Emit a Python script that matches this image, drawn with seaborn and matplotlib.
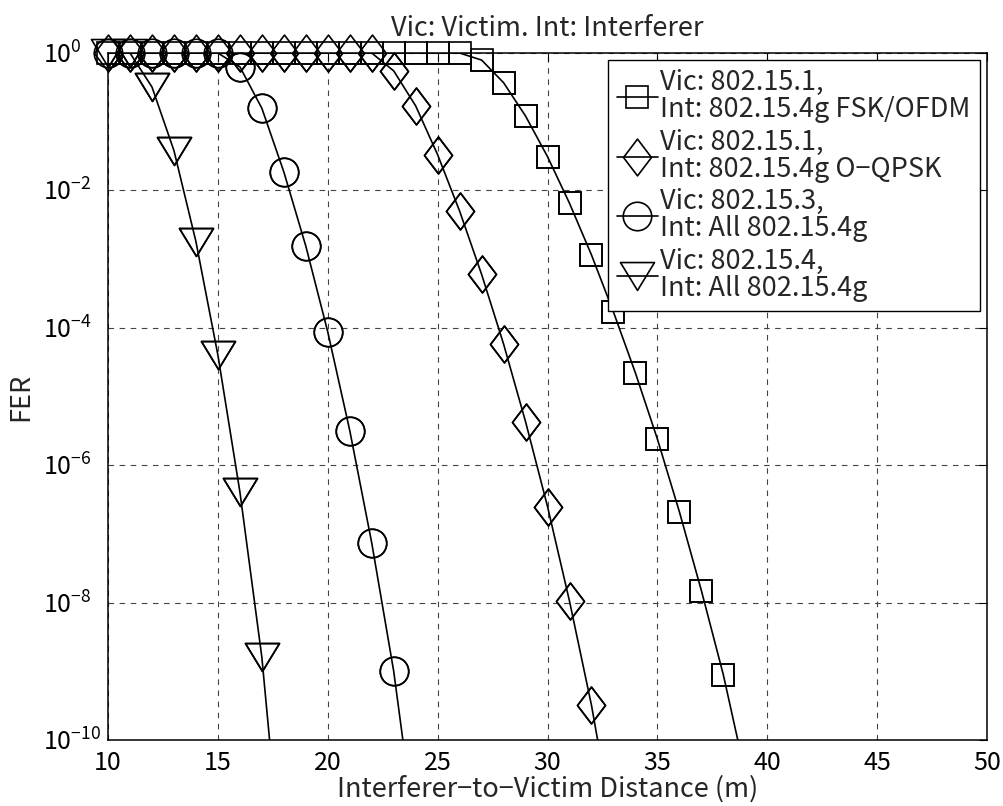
import numpy as np
import pandas as pd
import matplotlib
matplotlib.use("Agg")
import matplotlib.pyplot as plt
from matplotlib.path import Path
from matplotlib.ticker import FixedLocator, FixedFormatter, NullLocator
import seaborn as sns

# Frame error rate vs. interferer-to-victim distance
dist_fsk = list(range(10, 40))
fer_fsk = [1.0] * 17 + [0.79, 0.37, 0.121, 0.031, 6.5e-3, 1.15e-3, 1.7e-4,
                        2.2e-5, 2.4e-6, 2.1e-7, 1.5e-8, 8.9e-10, 3.2e-11]

dist_oqpsk = list(range(10, 34))
fer_oqpsk = [1.0] * 13 + [0.55, 0.17, 0.033, 5.0e-3, 6.0e-4, 5.8e-5, 4.3e-6,
                          2.5e-7, 1.05e-8, 3.2e-10, 5e-12]

dist_153 = list(range(10, 25))
fer_153 = [1.0] * 6 + [0.63, 0.157, 0.0186, 1.55e-3, 8.7e-5, 3.2e-6, 7.4e-8,
                       1.0e-9, 4e-12]

dist_154 = list(range(10, 19))
fer_154 = [1.0, 1.0, 0.32, 0.038, 1.8e-3, 4.0e-5, 4.1e-7, 1.6e-9, 6e-13]

labels = [
    "Vic: 802.15.1,\nInt: 802.15.4g FSK/OFDM",
    "Vic: 802.15.1,\nInt: 802.15.4g O\u2212QPSK",
    "Vic: 802.15.3,\nInt: All 802.15.4g",
    "Vic: 802.15.4,\nInt: All 802.15.4g",
]

x_ticks = [10, 15, 20, 25, 30, 35, 40, 45, 50]
y_exps = [0, -2, -4, -6, -8, -10]
y_tick_labels = [r"$10^{%d}$" % e for e in y_exps]

title = "Vic: Victim. Int: Interferer"
x_label = "Interferer\u2212to\u2212Victim Distance (m)"
y_label = "FER"

sns.set_style("white")
plt.rcParams["font.family"] = ["Noto Sans CJK JP", "DejaVu Sans"]
plt.rcParams["mathtext.fontset"] = "custom"
plt.rcParams["mathtext.rm"] = "Noto Sans CJK JP"
plt.rcParams["mathtext.it"] = "Noto Sans CJK JP"
plt.rcParams["mathtext.default"] = "rm"

FS = 19.5
FS_TICK = 18

Y_MIN, Y_MAX = 1e-10, 1.0

# open marker shapes
diamond = Path([(0, 1), (0.76, 0), (0, -1), (-0.76, 0), (0, 1)], closed=True)
tri_down = Path([(-1, 0.82), (1, 0.82), (0, -0.82), (-1, 0.82)], closed=True)

series = [
    (dist_fsk, fer_fsk, "s", 16.5),
    (dist_oqpsk, fer_oqpsk, diamond, 26.5),
    (dist_153, fer_153, "o", 20.5),
    (dist_154, fer_154, tri_down, 24.5),
]

fig = plt.figure(figsize=(10.04, 8.06), dpi=100)
ax = fig.add_axes([0.1076, 0.0819, 0.8755, 0.8523])

mk_style = dict(markerfacecolor="none", markeredgecolor="black",
                markeredgewidth=1.2)

for (xs, ys, mk, ms), lab in zip(series, labels):
    df = pd.DataFrame({"d": xs, "fer": ys})
    # curve with markers, clipped to the axes (gives the legend entry)
    sns.lineplot(data=df, x="d", y="fer", ax=ax, color="black", linewidth=1.2,
                 marker=mk, markersize=ms, label=lab, **mk_style)
    # markers inside the value range may spill over the frame edge
    inside = df[(df["fer"] >= Y_MIN) & (df["fer"] <= Y_MAX)]
    sns.lineplot(data=inside, x="d", y="fer", ax=ax, color="black",
                 linestyle="none", marker=mk, markersize=ms, clip_on=False,
                 legend=False, **mk_style)

ax.set_yscale("log")
ax.set_xlim(10, 50)
ax.set_ylim(Y_MIN, Y_MAX)

ax.xaxis.set_major_locator(FixedLocator(x_ticks))
ax.set_xticklabels([str(t) for t in x_ticks])
ax.yaxis.set_major_locator(FixedLocator([10.0 ** e for e in y_exps]))
ax.yaxis.set_major_formatter(FixedFormatter(y_tick_labels))
ax.yaxis.set_minor_locator(NullLocator())
ax.xaxis.set_minor_locator(NullLocator())

ax.tick_params(direction="in", length=6, width=0.8, top=True, right=True,
               labelsize=FS_TICK, colors="black")
ax.tick_params(axis="x", pad=7)
# exponent labels share a common left edge
ax.tick_params(axis="y", pad=47)
for lbl in ax.get_yticklabels():
    lbl.set_horizontalalignment("left")

ax.grid(True, which="major", linestyle=(0, (5, 5)), color="#444444",
        linewidth=0.8)
for sp in ax.spines.values():
    sp.set_color("black")
    sp.set_linewidth(1.1)

ax.set_title(title, fontsize=FS, pad=12)
ax.set_xlabel(x_label, fontsize=FS, labelpad=0)
ax.set_ylabel(y_label, fontsize=FS, labelpad=6)

leg = ax.legend(loc="upper right", fontsize=FS, frameon=True, fancybox=False,
                framealpha=1, edgecolor="black", handlelength=1.5,
                handletextpad=0.1, labelspacing=0.2, borderpad=0.35,
                borderaxespad=0.25)
leg.get_frame().set_linewidth(1.0)
for t in leg.get_texts():
    t.set_linespacing(1.0)

fig.savefig("out.png", dpi=100)
